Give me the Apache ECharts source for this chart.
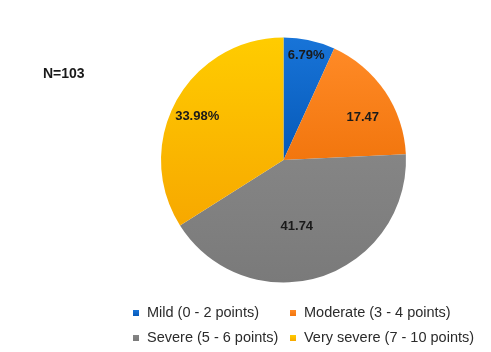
<!DOCTYPE html>
<html><head><meta charset="utf-8">
<script src="https://cdn.jsdelivr.net/npm/echarts@6/dist/echarts.min.js"></script>
<style>html,body{margin:0;padding:0;background:#fff}#c{width:491px;height:352px}</style>
</head><body><div id="c"></div>
<script>
const categories = ['Mild (0 - 2 points)', 'Moderate (3 - 4 points)', 'Severe (5 - 6 points)', 'Very severe (7 - 10 points)'];
const values = [6.79, 17.47, 41.74, 33.98];
const labelTexts = ['6.79%', '17.47', '41.74', '33.98%'];
const sampleLabel = 'N=103';

const colors = [
  ['#1874d8', '#0659b8'],
  ['#ff8a26', '#f2760e'],
  ['#858585', '#7a7a7a'],
  ['#ffcc00', '#f7a800']
];
const labelOffsets = [[9, -42], [26, -7], [-6, 5], [-30, -13]];

const chart = echarts.init(document.getElementById('c'), null, {renderer: 'canvas'});
const grad = (c) => new echarts.graphic.LinearGradient(0, 0, 0, 1, [{offset: 0, color: c[0]}, {offset: 1, color: c[1]}]);
const legendText = {fontFamily: 'Liberation Sans, Arial, sans-serif', fontSize: 14.5, lineHeight: 16, color: '#2b2b2b', padding: [0, 0, 0, 3]};

chart.setOption({
  animation: false,
  title: {
    text: sampleLabel, left: 38, top: 62,
    textStyle: {fontFamily: 'Liberation Sans, Arial, sans-serif', fontSize: 14, fontWeight: 'bold', color: '#1a1a1a'}
  },
  legend: [
    {
      data: [categories[0], categories[2]], orient: 'vertical', left: 128, top: 300,
      itemWidth: 6, itemHeight: 6, itemGap: 9, icon: 'rect', textStyle: legendText
    },
    {
      data: [categories[1], categories[3]], orient: 'vertical', left: 285, top: 300,
      itemWidth: 6, itemHeight: 6, itemGap: 9, icon: 'rect', textStyle: legendText
    }
  ],
  series: [{
    type: 'pie',
    center: [283.5, 160],
    radius: [0, 122.5],
    startAngle: 90,
    clockwise: true,
    avoidLabelOverlap: false,
    itemStyle: {borderWidth: 0},
    label: {
      show: true, position: 'inside',
      fontFamily: 'Liberation Sans, Arial, sans-serif', fontSize: 13, fontWeight: 'bold', color: '#1a1a1a',
      formatter: (p) => labelTexts[p.dataIndex]
    },
    labelLine: {show: false},
    labelLayout: (p) => ({dx: labelOffsets[p.dataIndex][0], dy: labelOffsets[p.dataIndex][1]}),
    data: categories.map((name, i) => ({
      name, value: values[i],
      itemStyle: {color: grad(colors[i])}
    }))
  }],
  color: colors.map(c => c[0])
});
</script></body></html>
